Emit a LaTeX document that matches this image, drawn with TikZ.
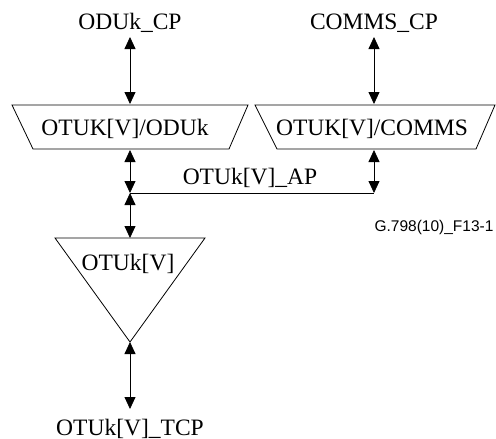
\documentclass[tikz,border=0pt]{standalone}
\usepackage{fontspec}
\setmainfont{Liberation Serif}
\newfontfamily\arialfont{Liberation Sans}
\usetikzlibrary{arrows.meta}
\begin{document}
\begin{tikzpicture}[x=1pt,y=-1pt,
  lbl/.style={font=\fontsize{23.5}{26}\selectfont, inner sep=0pt, anchor=base},
  fig/.style={font=\arialfont\fontsize{15.5}{18}\selectfont, inner sep=0pt, anchor=base},
  conn/.style={line width=0.8pt, {Triangle[length=12pt,width=11pt]}-{Triangle[length=12pt,width=11pt]}},
  shp/.style={line width=0.8pt, line join=miter}]
\useasboundingbox (0,0) rectangle (496,439);
% shapes
\draw[shp] (12,105) -- (248,105) -- (229,149) -- (33,149) -- cycle;
\draw[shp] (255,105) -- (495,105) -- (476,149) -- (277,149) -- cycle;
\draw[shp] (55,238) -- (205,238) -- (130,342) -- cycle;
% labels
\node[lbl] (oducp) at (130,30) {ODUk\_CP};
\node[lbl] (commscp) at (374,30) {COMMS\_CP};
\node[lbl] (aodu) at (125,135) {OTUK[V]/ODUk};
\node[lbl] (acomms) at (372,135) {OTUK[V]/COMMS};
\node[lbl] (ap) at (250,184) {OTUk[V]\_AP};
\node[lbl] (tt) at (128,270) {OTUk[V]};
\node[lbl] (tcp) at (130,435) {OTUk[V]\_TCP};
\node[fig] (fig) at (434,231) {G.798(10)\_F13-1};
% coordinates
\coordinate (l1) at (130,37);
\coordinate (l2) at (130,104);
\coordinate (r1) at (374,37);
\coordinate (r2) at (374,104);
\coordinate (l3) at (130,150);
\coordinate (j) at (130,193);
\coordinate (r3) at (374,150);
\coordinate (r4) at (374,193);
\coordinate (l5) at (130,238);
\coordinate (l6) at (130,342);
\coordinate (l7) at (130,409);
% connectors
\draw[conn] (l1) -- (l2);
\draw[conn] (r1) -- (r2);
\draw[conn] (l3) -- (j);
\draw[conn] (r3) -- (r4);
\draw[line width=0.8pt] (j) -- (r4);
\draw[conn] (j) -- (l5);
\draw[conn] (l6) -- (l7);
\end{tikzpicture}
\end{document}
